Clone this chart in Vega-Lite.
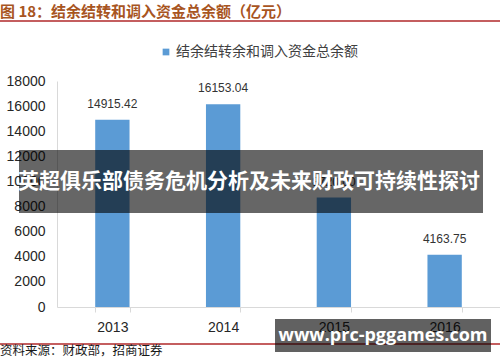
{
  "$schema": "https://vega.github.io/schema/vega-lite/v6.json",
  "autosize": {"type": "none"},
  "width": 443,
  "height": 226,
  "padding": {"left": 57, "top": 81, "right": 0, "bottom": 55},
  "background": "white",
  "config": {
    "view": {"stroke": null},
    "axisY": {"labelOverlap": false, "labelBound": false, "grid": false, "ticks": false, "domainColor": "#d9d9d9", "labelPadding": 12, "labelFont": "Liberation Sans", "labelFontSize": 14, "labelColor": "#262626", "title": null}
  },
  "resolve": {"scale": {"x": "independent"}, "axis": {"x": "independent", "y": "independent"}},
  "layer": [
    {
      "data": {"values": [
        {"year": "2013", "value": 14915.42, "label": "14915.42", "series": "结余结转余和调入资金总余额"},
        {"year": "2014", "value": 16153.04, "label": "16153.04", "series": "结余结转余和调入资金总余额"},
        {"year": "2015", "value": 8720.0, "label": "8720.00", "series": "结余结转余和调入资金总余额"},
        {"year": "2016", "value": 4163.75, "label": "4163.75", "series": "结余结转余和调入资金总余额"}
      ]},
      "encoding": {
        "x": {"field": "year", "type": "nominal", "sort": null,
          "scale": {"paddingInner": 0.69, "paddingOuter": 0.345},
          "axis": {"title": null, "labelAngle": 0, "domainColor": "#d9d9d9", "tickColor": "#d9d9d9", "tickBand": "extent", "tickSize": 5, "labelPadding": 8, "labelFont": "Liberation Sans", "labelFontSize": 14, "labelColor": "#262626"}},
        "y": {"field": "value", "type": "quantitative",
          "scale": {"domain": [0, 18000], "nice": false, "zero": true},
          "axis": {"title": null, "values": [0, 2000, 4000, 6000, 8000, 10000, 12000, 14000, 16000, 18000], "format": "d", "labelOverlap": false}}
      },
      "layer": [
        {
          "mark": {"type": "bar"},
          "encoding": {
            "color": {"field": "series", "type": "nominal",
              "scale": {"range": ["#5B9BD5"]},
              "legend": {"title": null, "orient": "none", "legendX": 102, "legendY": -36, "padding": 0, "symbolType": "square", "symbolSize": 45, "symbolStrokeWidth": 0, "labelFont": "Noto Sans CJK SC", "labelFontSize": 14, "labelColor": "#404040", "labelOffset": 3, "labelLimit": 400}}
          }
        },
        {
          "mark": {"type": "text", "baseline": "bottom", "dy": -9, "font": "Liberation Sans", "fontSize": 12, "color": "#333333"},
          "encoding": {"text": {"field": "label"}}
        }
      ]
    },
    {
      "layer": [
        {
          "data": {"values": [{"t": "图 18：结余结转和调入资金总余额（亿元）"}]},
          "mark": {"type": "text", "align": "left", "baseline": "middle", "font": "Noto Sans CJK SC", "fontWeight": "bold", "fontSize": 15, "color": "#A8551F"},
          "encoding": {
            "x": {"datum": -0.12867, "type": "quantitative", "scale": {"domain": [0, 1], "nice": false, "zero": false}, "axis": null},
            "y": {"datum": 23495, "type": "quantitative", "axis": null},
            "text": {"field": "t"}
          }
        },
        {
          "data": {"values": [{"t": "top"}, {"t": "bottom"}]},
          "mark": {"type": "rule", "color": "#B0282A", "strokeWidth": 1.5},
          "encoding": {
            "x": {"datum": -0.12867, "type": "quantitative", "scale": {"domain": [0, 1], "nice": false, "zero": false}, "axis": null},
            "x2": {"datum": 1.0},
            "y": {"field": "pos", "type": "quantitative", "axis": null}
          },
          "transform": [{"lookup": "t", "from": {"data": {"values": [{"t": "top", "pos": 22779}, {"t": "bottom", "pos": -2947}]}, "key": "t", "fields": ["pos"]}}]
        },
        {
          "data": {"values": [{"t": "资料来源：财政部，招商证券"}]},
          "mark": {"type": "text", "align": "left", "baseline": "middle", "font": "Noto Sans CJK SC", "fontSize": 12.5, "color": "#1a1a1a"},
          "encoding": {
            "x": {"datum": -0.12867, "type": "quantitative", "scale": {"domain": [0, 1], "nice": false, "zero": false}, "axis": null},
            "y": {"datum": -3504, "type": "quantitative", "axis": null},
            "text": {"field": "t"}
          }
        },
        {
          "data": {"values": [{"t": "banner"}]},
          "mark": {"type": "rect", "color": "#000000", "opacity": 0.6},
          "encoding": {
            "x": {"datum": -0.08578, "type": "quantitative", "scale": {"domain": [0, 1], "nice": false, "zero": false}, "axis": null},
            "x2": {"datum": 0.96163},
            "y": {"datum": 12504, "type": "quantitative", "axis": null},
            "y2": {"datum": 7487}
          }
        },
        {
          "data": {"values": [{"t": "英超俱乐部债务危机分析及未来财政可持续性探讨"}]},
          "mark": {"type": "text", "align": "center", "baseline": "middle", "font": "Noto Sans CJK SC", "fontWeight": "bold", "fontSize": 21, "color": "#ffffff"},
          "encoding": {
            "x": {"datum": 0.4334, "type": "quantitative", "scale": {"domain": [0, 1], "nice": false, "zero": false}, "axis": null},
            "y": {"datum": 9956, "type": "quantitative", "axis": null},
            "text": {"field": "t"}
          }
        },
        {
          "data": {"values": [{"t": "watermark"}]},
          "mark": {"type": "rect", "color": "#000000", "opacity": 0.62},
          "encoding": {
            "x": {"datum": 0.4921, "type": "quantitative", "scale": {"domain": [0, 1], "nice": false, "zero": false}, "axis": null},
            "x2": {"datum": 0.97968},
            "y": {"datum": -956, "type": "quantitative", "axis": null},
            "y2": {"datum": -3584}
          }
        },
        {
          "data": {"values": [{"t": "www.prc-pggames.com"}]},
          "mark": {"type": "text", "align": "center", "baseline": "middle", "font": "Open Sans", "fontWeight": "bold", "fontSize": 18, "color": "#ffffff"},
          "encoding": {
            "x": {"datum": 0.73589, "type": "quantitative", "scale": {"domain": [0, 1], "nice": false, "zero": false}, "axis": null},
            "y": {"datum": -2310, "type": "quantitative", "axis": null},
            "text": {"field": "t"}
          }
        }
      ]
    }
  ]
}
